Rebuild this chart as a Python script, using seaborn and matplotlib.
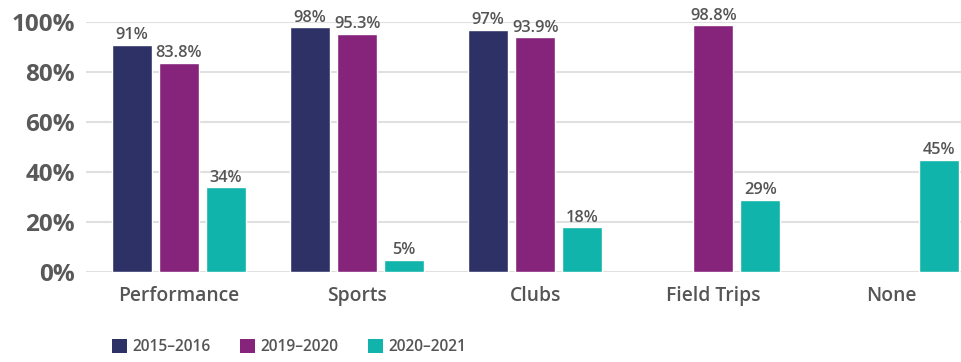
import matplotlib
matplotlib.use("Agg")
import matplotlib.pyplot as plt
import seaborn as sns
import pandas as pd
import numpy as np
from matplotlib.patches import Patch

categories = ["Performance", "Sports", "Clubs", "Field Trips", "None"]
years = ["2015–2016", "2019–2020", "2020–2021"]
vals_2015 = [91, 98, 97, None, None]
vals_2019 = [83.8, 95.3, 93.9, 98.8, None]
vals_2020 = [34, 5, 18, 29, 45]
colors = ["#2e3166", "#86247b", "#10b4aa"]
yticks = [0, 20, 40, 60, 80, 100]

rows = []
for yr, series in zip(years, [vals_2015, vals_2019, vals_2020]):
    for cat, v in zip(categories, series):
        if v is not None:
            rows.append({"Activity": cat, "Year": yr, "Value": v})
df = pd.DataFrame(rows)

sns.set_theme(style="white")
plt.rcParams["font.family"] = ["Open Sans", "DejaVu Sans"]

fig = plt.figure(figsize=(9.61, 3.62), dpi=100)
ax = fig.add_axes([86/961, 90/362, 1 - 86/961, 250/362])

sns.barplot(data=df, x="Activity", y="Value", hue="Year", order=categories,
            hue_order=years, palette=colors, width=0.792, gap=0.15,
            saturation=1, errorbar=None, ax=ax, legend=False, zorder=3)

for cont in ax.containers:
    labels = [f"{v:g}%" for v in cont.datavalues]
    ax.bar_label(cont, labels=labels, padding=1, fontsize=11.8,
                 fontweight="semibold", color="#555555", clip_on=False)

ax.set_xlim(-0.522, 4.39)
ax.set_ylim(0, 100)
ax.set_yticks(yticks)
ax.set_yticklabels([f"{t}%" for t in yticks], fontsize=17.5, fontweight="bold",
                   color="#595959")
ax.tick_params(axis="y", length=0, pad=8)
ax.tick_params(axis="x", length=0, pad=10, labelsize=13.9, labelcolor="#555555")
for lab in ax.get_xticklabels():
    lab.set_fontweight("semibold")
ax.set_xlabel("")
ax.set_ylabel("")
ax.yaxis.grid(True, color="#e0e0e0", linewidth=1.5, zorder=0)
ax.set_axisbelow(True)
for s in ax.spines.values():
    s.set_visible(False)

handles = [Patch(facecolor=c, edgecolor="none") for c in colors]
leg = fig.legend(handles, years, loc="lower left", bbox_to_anchor=(98/961, -0.02),
                 ncol=3, frameon=False, handlelength=0.95, handleheight=0.95,
                 handletextpad=0.35, columnspacing=1.9,
                 prop={"size": 11.2, "weight": "semibold"})
for t in leg.get_texts():
    t.set_color("#555555")

fig.savefig("out.png", dpi=100)
